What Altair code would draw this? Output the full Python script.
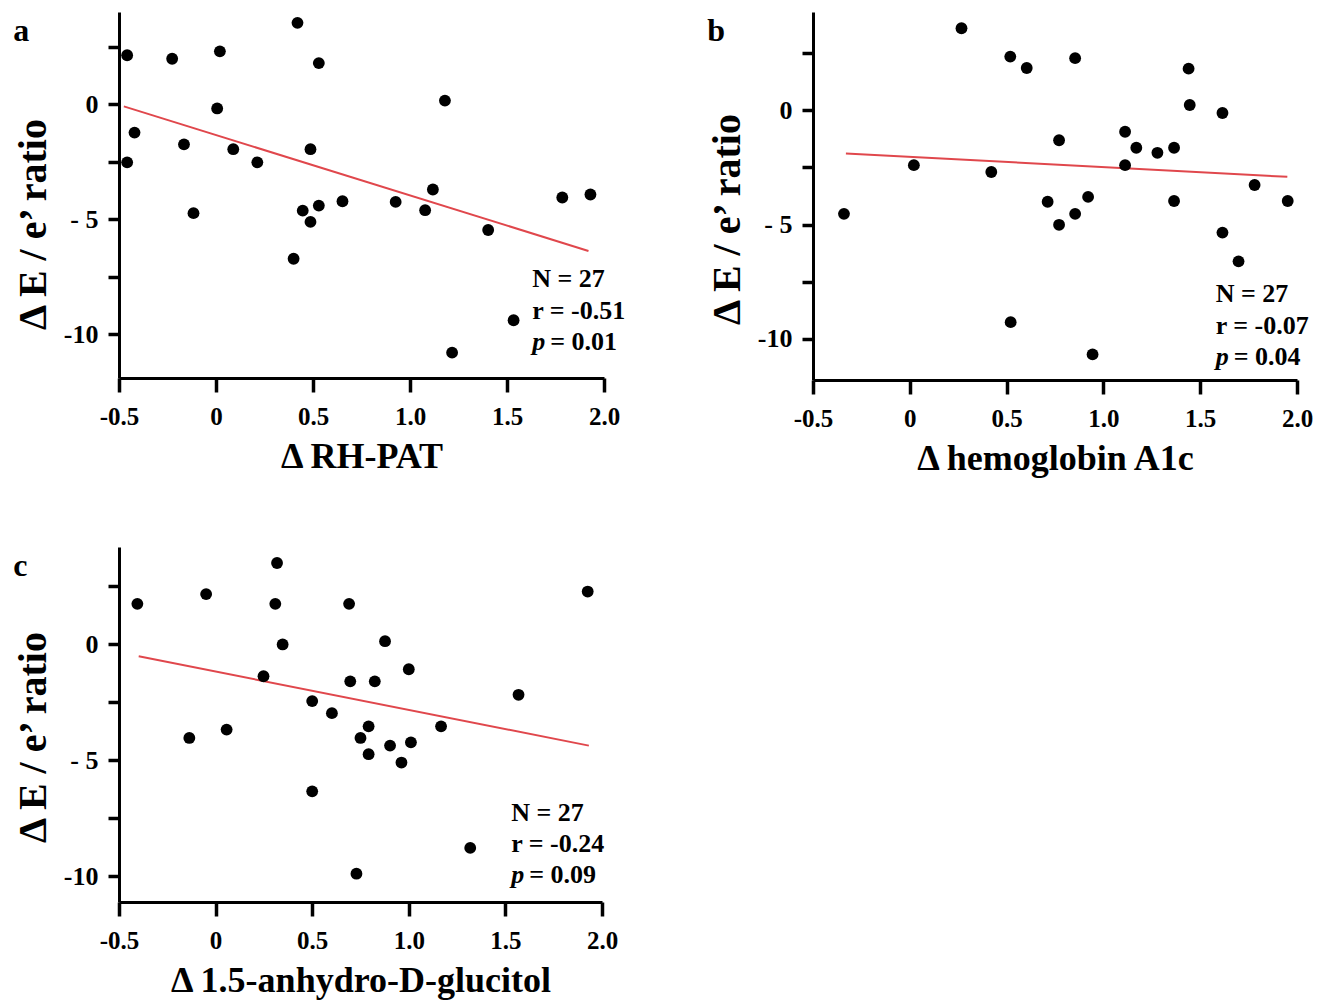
import altair as alt
import pandas as pd

# ---------------- data ----------------
a_x = [-0.458, 0.42, -0.226, 0.02, 0.53, 1.18, 0.006, -0.42, -0.165, -0.458, 0.089, 0.487, 0.213,
       -0.116, 0.447, 0.487, 0.53, 0.652, 0.926, 1.078, 1.118, 1.403, 1.785, 1.93, 0.40, 1.534, 1.217]
a_y = [2.12, 3.53, 1.97, 2.29, 1.78, 0.15, -0.19, -1.24, -1.75, -2.53, -1.96, -1.96, -2.53,
       -4.74, -4.63, -5.12, -4.41, -4.22, -4.25, -4.61, -3.71, -5.47, -4.06, -3.93, -6.72, -9.39, -10.8]
a_line_x = [-0.475, 1.92]
a_line_y = [-0.10, -6.38]

b_x = [0.267, 0.519, 0.604, 0.854, 1.44, 1.446, 1.615, 1.112, 0.771, 1.17, 1.279, 1.365, 1.112, 0.021,
       0.421, 1.781, 0.712, 0.921, 0.854, 0.771, 1.365, 1.952, -0.34, 1.615, 1.698, 0.521, 0.944]
b_y = [3.59, 2.35, 1.85, 2.28, 1.82, 0.23, -0.12, -0.94, -1.31, -1.64, -1.86, -1.64, -2.40, -2.40,
       -2.70, -3.27, -4.0, -3.79, -4.53, -5.01, -3.97, -3.97, -4.53, -5.35, -6.61, -9.27, -10.68]
b_line_x = [-0.33, 1.95]
b_line_y = [-1.89, -2.91]

c_x = [-0.405, -0.049, 0.318, 0.309, 0.691, 1.926, 0.347, 0.877, 1.0, 0.248, 0.697, 0.824, 1.568, 0.5,
       0.602, 0.792, 1.167, 0.057, -0.136, 0.75, 0.903, 1.011, 0.792, 0.962, 0.5, 1.318, 0.729]
c_y = [1.75, 2.17, 3.51, 1.75, 1.75, 2.28, 0.0, 0.14, -1.07, -1.37, -1.59, -1.59, -2.17, -2.44,
       -2.96, -3.53, -3.53, -3.67, -4.03, -4.03, -4.36, -4.22, -4.73, -5.09, -6.33, -8.77, -9.88]
c_line_x = [-0.398, 1.932]
c_line_y = [-0.51, -4.36]

x_ticks = [-0.5, 0, 0.5, 1.0, 1.5, 2.0]
y_ticks = [2.5, 0, -2.5, -5, -7.5, -10]

FONT = "Liberation Serif"
RED = "#e0474c"


def panel(letter, xs, ys, lx, ly, ydom, xtitle, n_txt, r_txt, p_txt, sx, sy, w, h, ytitle_y):
    df = pd.DataFrame({"x": xs, "y": ys})
    xscale = alt.Scale(domain=[-0.5, 2.0], nice=False, zero=False)
    yscale = alt.Scale(domain=ydom, nice=False, zero=False)
    xaxis = alt.Axis(values=x_ticks, title=xtitle,
                     labelExpr="datum.value == 0 ? '0' : (datum.value < 0 ? '-' : '') + format(abs(datum.value), '.1f')",
                     labelPadding=12, titlePadding=10, labelFlush=False)
    yaxis = alt.Axis(values=y_ticks, title="Δ E / e’ ratio",
                     labelExpr="datum.value == 0 ? '0' : datum.value == -5 ? '- 5' : datum.value == -10 ? '-10' : ''",
                     labelPadding=10, titlePadding=10, titleY=ytitle_y)
    pts = alt.Chart(df).mark_circle(size=140, color="black", opacity=1).encode(
        x=alt.X("x:Q", scale=xscale, axis=xaxis),
        y=alt.Y("y:Q", scale=yscale, axis=yaxis),
    )
    line = alt.Chart(pd.DataFrame({"x": lx, "y": ly})).mark_line(color=RED, strokeWidth=2).encode(
        x=alt.X("x:Q", scale=xscale), y=alt.Y("y:Q", scale=yscale)
    )
    st = pd.DataFrame({"x": [sx, sx], "y": sy[:2], "t": [n_txt, r_txt]})
    stats = alt.Chart(st).mark_text(align="left", baseline="middle", font=FONT, fontWeight="bold",
                                    fontSize=26, color="black").encode(
        x=alt.X("x:Q", scale=xscale), y=alt.Y("y:Q", scale=yscale), text="t:N"
    )
    pdf = pd.DataFrame({"x": [sx], "y": [sy[2]], "t": ["p"], "u": [p_txt]})
    p1 = alt.Chart(pdf).mark_text(align="left", baseline="middle", font=FONT, fontWeight="bold",
                                  fontStyle="italic", fontSize=26, color="black").encode(
        x=alt.X("x:Q", scale=xscale), y=alt.Y("y:Q", scale=yscale), text="t:N"
    )
    p2 = alt.Chart(pdf).mark_text(align="left", baseline="middle", font=FONT, fontWeight="bold",
                                  fontSize=26, color="black", dx=18).encode(
        x=alt.X("x:Q", scale=xscale), y=alt.Y("y:Q", scale=yscale), text="u:N"
    )
    return alt.layer(line, pts, stats, p1, p2).properties(
        width=w, height=h,
        title=alt.TitleParams(letter, anchor="start", font=FONT, fontWeight="bold", fontSize=32,
                              offset=-36, color="black"),
    )


pa = panel("a", a_x, a_y, a_line_x, a_line_y, [-11.9, 4.0], "Δ RH-PAT",
           "N = 27", "r = -0.51", "= 0.01", 1.63, [-7.6, -9.0, -10.35], 485, 366, 212)
pb = panel("b", b_x, b_y, b_line_x, b_line_y, [-11.8, 4.3], "Δ hemoglobin A1c",
           "N = 27", "r = -0.07", "= 0.04", 1.58, [-8.05, -9.45, -10.8], 484, 368, 207)
pc = panel("c", c_x, c_y, c_line_x, c_line_y, [-11.1, 4.2], "Δ 1.5-anhydro-D-glucitol",
           "N = 27", "r = -0.24", "= 0.09", 1.53, [-7.25, -8.62, -9.95], 483, 355, 190)

chart = alt.vconcat(alt.hconcat(pa, pb, spacing=81), pc, spacing=71).properties(
    padding={"left": 5, "top": 4, "right": 5, "bottom": 5}
).configure_axis(
    grid=False,
    domainColor="black", domainWidth=3,
    tickColor="black", tickWidth=3.5,
    labelFont=FONT, labelFontWeight="bold", labelColor="black",
    titleFont=FONT, titleFontWeight="bold", titleColor="black",
).configure_axisX(titleFontSize=36, labelFontSize=25, tickSize=14).configure_axisY(
    titleFontSize=40, labelFontSize=26, tickSize=11
).configure_view(stroke=None)

chart.save("out.html", embed_options={"renderer": "svg", "actions": False})
